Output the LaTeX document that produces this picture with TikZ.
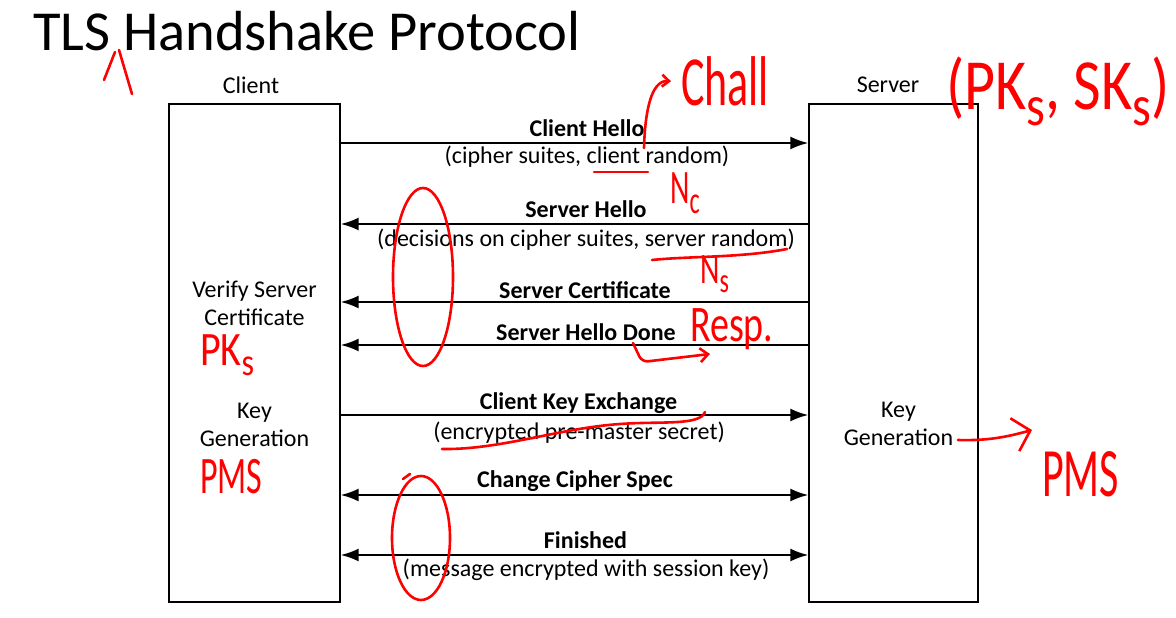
\documentclass[tikz,border=0pt]{standalone}
\usepackage{fontspec}
\setmainfont{Carlito}
\usepackage{graphicx}
\usetikzlibrary{arrows.meta}

% Estilos del diagrama
\tikzset{
  caja/.style={draw,line width=2pt,minimum height=498pt,inner sep=0pt},
  msg/.style={line width=2pt,>={Latex[length=18pt,width=13pt]}},
  etiq/.style={font=\fontsize{24}{28}\selectfont,align=center,inner sep=0pt},
  tit/.style={font=\bfseries\fontsize{24}{28}\selectfont,inner sep=0pt},
  nota/.style={red,line width=2.6pt,line cap=round,line join=round},
  mano/.style={red,inner sep=0pt,anchor=base west},
}
\newcommand{\subi}[1]{\raisebox{-0.22em}{\scalebox{0.8}{#1}}}

\begin{document}
\begin{tikzpicture}[x=1pt,y=-1pt]
  % Ventana
  \useasboundingbox[fill=white] (0,0) rectangle (1176,618);

  % Titulo
  \node[font=\fontsize{56.5}{60}\selectfont,anchor=base west,inner sep=0pt] (titulo) at (33,51) {TLS Handshake Protocol};

  % Cajas de cliente y servidor
  \node[caja,minimum width=171pt] (cliente) at (254.2,353.3) {};
  \node[caja,minimum width=169pt] (servidor) at (893.8,353.3) {};
  \node[etiq] (nomC) at (251,85) {Client};
  \node[etiq] (nomS) at (888,85) {Server};

  % Textos dentro de las cajas
  \node[etiq] (verif) at (254.5,303) {Verify Server\\Certificate};
  \node[etiq] (genC) at (254.5,425) {Key\\Generation};
  \node[etiq] (genS) at (898.5,424) {Key\\Generation};

  % Mensajes
  \draw[msg,->] (cliente.east |- 0,143) -- (servidor.west |- 0,143);
  \node[tit] (m1a) at (587,128) {Client Hello};
  \node[etiq] (m1b) at (587,157) {(cipher suites, client random)};

  \draw[msg,<-] (cliente.east |- 0,224) -- (servidor.west |- 0,224);
  \node[tit] (m2a) at (586,209) {Server Hello};
  \node[etiq] (m2b) at (586,240) {(decisions on cipher suites, server random)};

  \draw[msg,<-] (cliente.east |- 0,302) -- (servidor.west |- 0,302);
  \node[tit] (m3a) at (585,290) {Server Certificate};

  \draw[msg,<-] (cliente.east |- 0,345) -- (servidor.west |- 0,345);
  \node[tit] (m4a) at (586,332) {Server Hello Done};

  \draw[msg,->] (cliente.east |- 0,415) -- (servidor.west |- 0,415);
  \node[tit] (m5a) at (578.5,403) {Client Key Exchange};
  \node[etiq] (m5b) at (579,433) {(encrypted pre-master secret)};

  \draw[msg,<->] (cliente.east |- 0,495) -- (servidor.west |- 0,495);
  \node[tit] (m6a) at (575,481) {Change Cipher Spec};

  \draw[msg,<->] (cliente.east |- 0,555) -- (servidor.west |- 0,555);
  \node[tit] (m7a) at (585.5,540) {Finished};
  \node[etiq] (m7b) at (586,570) {(message encrypted with session key)};

  % Anotaciones a mano
  \draw[nota] (104,80) -- (115,52) (119,50) -- (132,94);

  \node[mano,font=\fontsize{44}{44}\selectfont] (chall) at (681,106) {\scalebox{1}[1.6]{Chall}};
  \coordinate (hello) at (644,148);
  \draw[nota,-{Straight Barb[length=7pt,width=12pt]},shorten >=10pt] (hello) .. controls (645,112) and (651,80) .. (chall.west);

  \node[mano,font=\fontsize{60}{60}\selectfont] (claves) at (946,110) {\scalebox{1}[1.2]{(PK\subi{s}, SK\subi{s})}};

  \draw[nota] (594,172) -- (648,172);
  \node[mano,font=\fontsize{30}{30}\selectfont] (nc) at (670,203) {\scalebox{1}[1.6]{N\subi{c}}};

  \draw[nota] (423,277) ellipse [x radius=30, y radius=89];

  \draw[nota] (652,260) .. controls (690,256) and (740,258) .. (787,249);
  \node[mano,font=\fontsize{30}{30}\selectfont] (ns) at (700,283) {\scalebox{1}[1.45]{N\subi{s}}};

  \node[mano,font=\fontsize{38}{38}\selectfont] (resp) at (690,341) {\scalebox{1}[1.35]{Resp.}};
  \coordinate (done) at (633,343);
  \draw[nota,-{Straight Barb[length=8pt,width=14pt]},rounded corners=6pt] (done) -- (642,362) -- (710,354);

  \node[mano,font=\fontsize{40}{40}\selectfont] (pkc) at (200,365) {\scalebox{1}[1.2]{PK\subi{s}}};
  \node[mano,font=\fontsize{34}{34}\selectfont] (pmsC) at (200,493) {\scalebox{1}[1.55]{PMS}};

  \draw[nota] (442,449) .. controls (500,450) and (560,428) .. (620,424) .. controls (660,421) and (700,426) .. (705,412);

  \draw[nota] (421,538) ellipse [x radius=29, y radius=62];
  \draw[nota] (403,479) -- (410,474);

  \coordinate (genFin) at (958,440);
  \node[mano,font=\fontsize{42}{42}\selectfont] (pmsS) at (1042,496) {\scalebox{1}[1.65]{PMS}};
  \draw[nota,-{Straight Barb[length=16pt,width=34pt]}] (genFin) .. controls (990,441) and (1010,436) .. (1032,430);
\end{tikzpicture}
\end{document}
